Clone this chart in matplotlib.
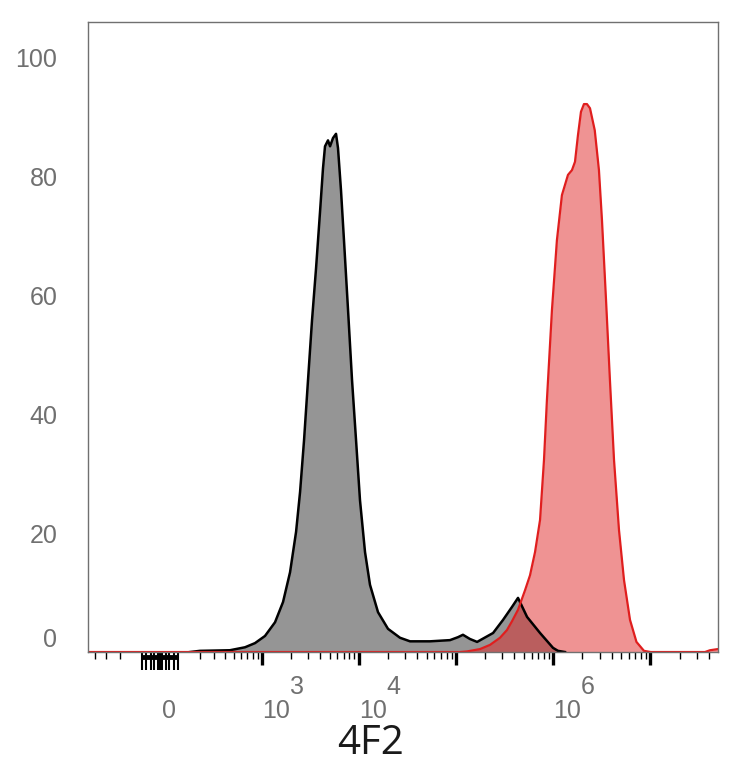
import numpy as np
import matplotlib
matplotlib.use("Agg")
import matplotlib.pyplot as plt

# fluorescence intensity (4F2) and % of max for the two histograms
ctrl_x = [139, 197, 454, 663, 846, 1076, 1368, 1656, 1957, 2259, 2484, 2730,
          3000, 3300, 3630, 3990, 4280, 4490, 4820, 5060, 5430, 5830, 6110,
          6560, 7040, 7750, 8520, 9370, 10290, 11590, 13040, 15770, 19980,
          26550, 33650, 54050, 86800, 105000, 118000, 139000, 165000, 241000,
          305000, 378000, 435000, 539000, 733000, 997000, 1121000, 1324000]
ctrl_y = [0, 0.2, 0.3, 0.8, 1.5, 2.7, 5.0, 8.4, 13.4, 20.2, 26.9, 35.6,
          45.7, 55.8, 64.5, 74.0, 81.3, 85.0, 86.0, 85.0, 86.4, 87.1, 84.7,
          77.6, 69.2, 57.5, 45.7, 35.6, 25.5, 16.8, 11.3, 6.7, 3.9,
          2.4, 1.8, 1.8, 2.0, 2.5, 2.9, 2.2, 1.7, 3.2,
          5.4, 7.6, 9.1, 5.9, 3.2, 0.7, 0.2, 0]

stain_x = [-479, 110000, 130000, 177000, 224000, 284000, 335000, 378000,
           435000, 514000, 578000, 651000, 733000, 805000, 863000, 972000,
           1093000, 1231000, 1421000, 1562000, 1678000, 1801000, 1933000,
           2075000, 2228000, 2394000, 2680000, 2960000, 3180000, 3500000,
           3840000, 4230000, 4760000, 5360000, 6180000, 7200000, 8600000,
           10100000, 36500000, 41100000, 49700000]
stain_y = [0, 0, 0.1, 0.5, 1.2, 2.4, 3.7, 5.2,
           7.1, 10.4, 12.9, 16.8, 22.2, 32.3, 42.4, 57.5,
           69.2, 76.8, 80.2, 81.0, 82.4, 86.9, 90.8,
           92.1, 92.1, 91.4, 87.7, 81.0, 72.6, 59.2,
           45.7, 32.3, 20.5, 12.1, 5.4, 1.7, 0.2,
           0, 0, 0.3, 0.5]

y_ticks = [0, 20, 40, 60, 80, 100]
x_labels = {0: "0", 1e3: "3", 1e4: "4", 1e6: "6"}
x_major = [1e3, 1e4, 1e5, 1e6, 1e7]
x_zero = [-80, -60, -40, -25, -10, 0, 10, 25, 40, 60, 80]
x_minor = ([-400, -300, -200] +
           list(range(200, 1000, 100)) +
           [m * 10 ** k for k in range(3, 7) for m in range(2, 10)] +
           [2e7, 3e7, 4e7])

W = 180.0


def fwd(x):
    return np.arcsinh(np.asarray(x) / W)


def inv(y):
    return W * np.sinh(np.asarray(y))


fig = plt.figure(figsize=(7.34, 7.68), dpi=100)
ax = fig.add_axes([0.1199, 0.151, 0.8583, 0.8204])
ax.set_xscale("function", functions=(fwd, inv))

ax.fill_between(ctrl_x, ctrl_y, color="#959595", lw=0)
ax.fill_between(stain_x, stain_y, color="#e02828", alpha=0.5, lw=0)
ax.plot(ctrl_x, ctrl_y, color="black", lw=1.8)
ax.plot(stain_x, stain_y, color="#e01e1e", lw=1.6)

ax.set_xlim(-479, 4.97e7)
ax.set_ylim(0, 105.9)

for s in ax.spines.values():
    s.set_color("#707070")
    s.set_linewidth(1)

ax.set_yticks(y_ticks)
ax.tick_params(axis="y", length=0, pad=22, labelsize=18, labelcolor="#707070")
for t in ax.get_yticklabels():
    t.set_fontfamily("Liberation Sans")
ax.get_yticklabels()[0].set_verticalalignment("bottom")

ax.set_xticks(x_major)
ax.set_xticks(x_minor, minor=True)
ax.set_xticklabels([])
ax.tick_params(axis="x", which="major", direction="out", length=9, width=2.4,
               color="black")
ax.tick_params(axis="x", which="minor", direction="out", length=5, width=1.0,
               color="black")

# dense tick block around zero
xt = ax.get_xaxis_transform()
for v in x_zero:
    ax.plot([v, v], [0, -0.028], transform=xt, color="black", lw=1.5,
            clip_on=False, solid_capstyle="butt")
ax.plot([x_zero[0], x_zero[-1]], [-0.008, -0.008], transform=xt,
        color="black", lw=3.5, clip_on=False, solid_capstyle="butt")

blend = ("data", "axes fraction")
lab_kw = dict(textcoords="offset pixels", ha="left", va="center",
              fontsize=18, color="#707070", family="Liberation Sans")
for val, sup in x_labels.items():
    if val == 0:
        ax.annotate("0", xy=(val, 0), xycoords=blend, xytext=(2, -59), **lab_kw)
        continue
    ax.annotate("10", xy=(val, 0), xycoords=blend, xytext=(0, -59), **lab_kw)
    ax.annotate(sup, xy=(val, 0), xycoords=blend, xytext=(28, -35), **lab_kw)

fig.text(371 / 734, 1 - 744 / 768, "4F2", ha="center", va="center",
         fontsize=29, family="Open Sans", color="#1a1a1a")

fig.savefig("out.png", dpi=100)
